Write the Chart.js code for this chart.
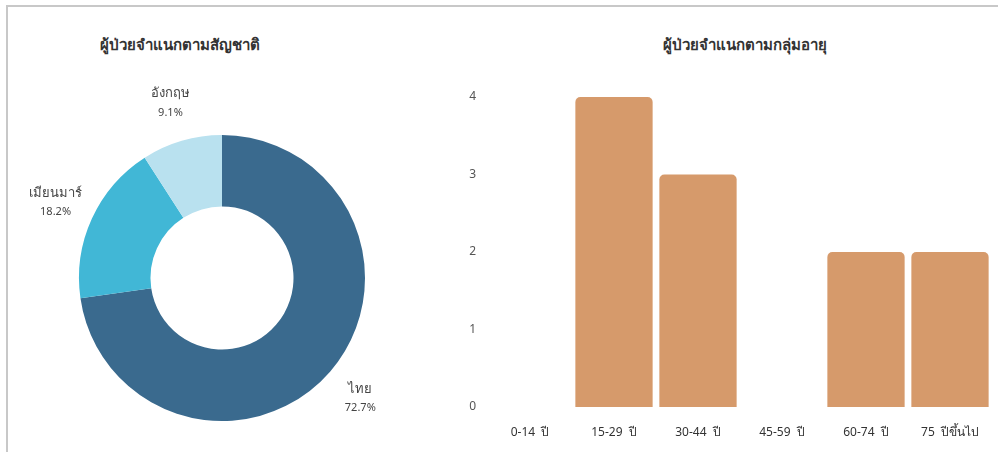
<!DOCTYPE html>
<html>
<head>
<meta charset="utf-8">
<script src="https://cdn.jsdelivr.net/npm/chart.js@4"></script>
<style>
  body { margin: 0; background: #fff; width: 998px; height: 452px; overflow: hidden; position: relative; font-family: 'Noto Sans', 'DejaVu Sans', sans-serif; }
  .frame { position: absolute; left: 6px; top: 5px; width: 998px; height: 460px; border-top: 2px solid #c8c8c8; border-left: 2px solid #c8c8c8; }
  .title { position: absolute; top: 33px; font-size: 15px; font-weight: bold; color: #333; text-align: center; width: 300px; }
  #left { position: absolute; left: 0; top: 0; }
  #right { position: absolute; left: 460px; top: 0; }
</style>
</head>
<body>
<div class="frame"></div>
<div class="title" style="left:30px">ผู้ป่วยจำแนกตามสัญชาติ</div>
<div class="title" style="left:595px">ผู้ป่วยจำแนกตามกลุ่มอายุ</div>
<canvas id="left" width="445" height="452"></canvas>
<canvas id="right" width="538" height="452"></canvas>
<script>
var nations = ['ไทย', 'เมียนมาร์', 'อังกฤษ'];
var nationCounts = [8, 2, 1];
var nationColors = ['#3a6a8e', '#41b7d6', '#b9e1ef'];

var ageGroups = ['0-14  ปี', '15-29  ปี', '30-44  ปี', '45-59  ปี', '60-74  ปี', '75  ปีขึ้นไป'];
var ageCounts = [0, 4, 3, 0, 2, 2];
var yTicks = [0, 1, 2, 3, 4];

var fontFam = "'Noto Sans', 'DejaVu Sans', sans-serif";

// labels outside the ring
const outerLabels = {
    id: 'outerLabels',
    afterDatasetsDraw(chart) {
        const ctx = chart.ctx;
        const meta = chart.getDatasetMeta(0);
        const total = nationCounts.reduce((a, b) => a + b, 0);
        ctx.save();
        ctx.textAlign = 'center';
        ctx.textBaseline = 'middle';
        ctx.fillStyle = '#444';
        meta.data.forEach((arc, i) => {
            const mid = (arc.startAngle + arc.endAngle) / 2;
            const r = arc.outerRadius + 40;
            const x = arc.x + Math.cos(mid) * r;
            const y = arc.y + Math.sin(mid) * r;
            ctx.font = '13px ' + fontFam;
            ctx.fillText(nations[i], x, y - 9);
            ctx.font = '11px ' + fontFam;
            ctx.fillText((nationCounts[i] / total * 100).toFixed(1) + '%', x, y + 10);
        });
        ctx.restore();
    }
};

new Chart(document.getElementById('left'), {
    type: 'doughnut',
    data: {
        labels: nations,
        datasets: [{
            data: nationCounts,
            backgroundColor: nationColors,
            borderWidth: 0,
            hoverOffset: 0
        }]
    },
    options: {
        responsive: false,
        animation: false,
        cutout: '50%',
        layout: { padding: { top: 135, bottom: 31, left: 79, right: 80 } },
        plugins: { legend: { display: false }, tooltip: { enabled: false } }
    },
    plugins: [outerLabels]
});

new Chart(document.getElementById('right'), {
    type: 'bar',
    data: {
        labels: ageGroups,
        datasets: [{
            data: ageCounts,
            backgroundColor: '#d69a6b',
            borderRadius: 5,
            borderSkipped: 'bottom',
            categoryPercentage: 1,
            barPercentage: 0.92
        }]
    },
    options: {
        responsive: false,
        animation: false,
        layout: { padding: { top: 97, right: 6, left: 0, bottom: 0 } },
        plugins: { legend: { display: false }, tooltip: { enabled: false } },
        scales: {
            x: {
                grid: { display: false },
                border: { display: false },
                ticks: { color: '#333', font: { size: 12, family: fontFam }, padding: 10, maxRotation: 0 },
                afterFit(scale) { scale.height = 45; }
            },
            y: {
                min: 0,
                max: 4,
                grid: { display: false },
                border: { display: false },
                afterBuildTicks(scale) { scale.ticks = yTicks.map(v => ({ value: v })); },
                ticks: { color: '#555', font: { size: 12, family: fontFam }, padding: 4 },
                afterFit(scale) { scale.width = 28; }
            }
        }
    }
});
</script>
</body>
</html>
